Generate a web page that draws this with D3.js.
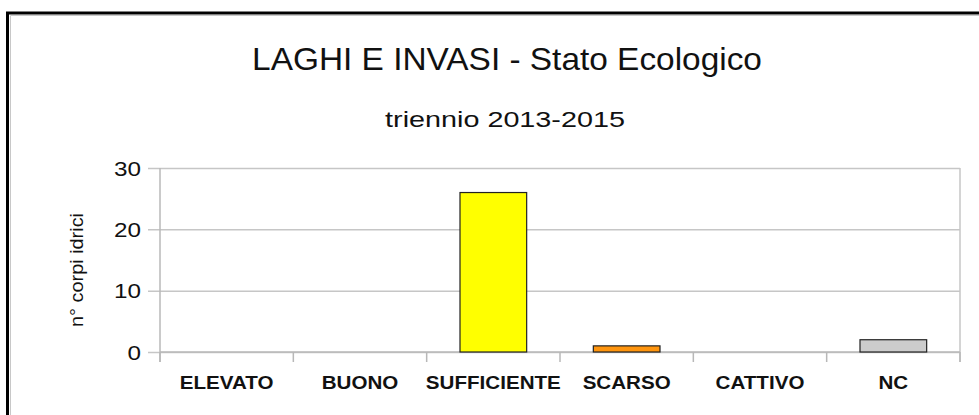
<!DOCTYPE html>
<html>
<head>
<meta charset="utf-8">
<script src="https://cdn.jsdelivr.net/npm/d3@7"></script>
<style>
  html, body { margin: 0; padding: 0; background: #fff; }
  svg { display: block; }
  text { font-family: "Liberation Sans", Arial, sans-serif; fill: #111; }
</style>
</head>
<body>
<svg id="chart" width="979" height="415"></svg>
<script>
// Chart data
const categories = ["ELEVATO", "BUONO", "SUFFICIENTE", "SCARSO", "CATTIVO", "NC"];
const counts = [0, 0, 26, 1, 0, 2];
const barColors = ["#3366cc", "#00b050", "#ffff00", "#ff950e", "#ff0000", "#cccccc"];
const yTicks = [0, 10, 20, 30];
const titleText = "LAGHI E INVASI - Stato Ecologico";
const subtitleText = "triennio 2013-2015";
const yAxisLabel = "n° corpi idrici";

const svg = d3.select("#chart");

// Outer frame (runs off the right and bottom edges)
svg.append("path")
  .attr("d", "M10.5,430 V15.5 H990")
  .attr("fill", "none").attr("stroke", "#c8c8c8").attr("stroke-width", 1);
svg.append("path")
  .attr("d", "M7.5,430 V13 H990")
  .attr("fill", "none").attr("stroke", "#000").attr("stroke-width", 3);

const plot = { left: 160, right: 960, top: 168, bottom: 352 };

const x = d3.scaleBand()
  .domain(categories)
  .range([plot.left, plot.right])
  .paddingInner(0.5)
  .paddingOuter(0.25);
const step = x.step();
const y = d3.scaleLinear().domain([0, 30]).range([plot.bottom, plot.top]);

// Stretch a text element horizontally (in its own frame) to a target width
function fit(sel, cx, cy, target, rotate) {
  const w = sel.node().getComputedTextLength();
  const sx = target / w;
  sel.attr("x", 0).attr("y", 0)
    .attr("transform", `translate(${cx},${cy})` + (rotate ? ` rotate(${rotate})` : "") + ` scale(${sx},1)`);
}

// Titles
fit(svg.append("text").attr("text-anchor", "middle").attr("font-size", 31).text(titleText), 507, 70, 510);
fit(svg.append("text").attr("text-anchor", "middle").attr("font-size", 22.5).text(subtitleText), 505, 127, 240);

// Gridlines and y tick labels
const g = svg.append("g");
const yAxis = d3.axisLeft(y).tickValues(yTicks).tickSize(0).tickPadding(0);
const yAxisG = g.append("g").attr("transform", `translate(${plot.left},0)`).call(yAxis);
yAxisG.select(".domain").remove();
yAxisG.selectAll(".tick line")
  .attr("x1", -12).attr("x2", plot.right - plot.left)
  .attr("stroke", "#c6c6c6").attr("stroke-width", 1.5);
const probe = svg.append("text").attr("font-size", 19.5).text("30");
const numScale = 27 / probe.node().getComputedTextLength();
probe.remove();
yAxisG.selectAll(".tick text")
  .attr("font-size", 19.5).attr("fill", "#111")
  .attr("font-family", "Liberation Sans, Arial, sans-serif")
  .attr("text-anchor", "end").attr("dy", "0.36em").attr("x", 0)
  .attr("transform", `translate(-19,0) scale(${numScale},1)`);

// Axis lines
g.append("line")
  .attr("x1", plot.left).attr("x2", plot.left)
  .attr("y1", plot.top).attr("y2", plot.bottom + 10)
  .attr("stroke", "#b8b8b8").attr("stroke-width", 1.5);
g.append("line")
  .attr("x1", plot.right).attr("x2", plot.right)
  .attr("y1", plot.top).attr("y2", plot.bottom + 10)
  .attr("stroke", "#c6c6c6").attr("stroke-width", 1.5);
const boundaries = categories.map(c => x(c) - (step - x.bandwidth()) / 2).concat([plot.right]);
g.selectAll("line.xtick").data(boundaries).join("line")
  .attr("class", "xtick")
  .attr("x1", d => d).attr("x2", d => d)
  .attr("y1", plot.bottom).attr("y2", plot.bottom + 10)
  .attr("stroke", "#b8b8b8").attr("stroke-width", 1.5);
g.append("line")
  .attr("x1", plot.left).attr("x2", plot.right)
  .attr("y1", plot.bottom).attr("y2", plot.bottom)
  .attr("stroke", "#b8b8b8").attr("stroke-width", 1.5);

// Bars
g.selectAll("rect.bar").data(categories.map((c, i) => ({ c, v: counts[i], col: barColors[i] })).filter(d => d.v > 0))
  .join("rect")
  .attr("class", "bar")
  .attr("x", d => x(d.c))
  .attr("width", x.bandwidth())
  .attr("y", d => y(d.v))
  .attr("height", d => y(0) - y(d.v))
  .attr("fill", d => d.col)
  .attr("stroke", "#222").attr("stroke-width", 1.2);

// Category labels
const catProbe = svg.append("text").attr("font-size", 18.5).attr("font-weight", "bold").text("SUFFICIENTE");
const catScale = 135 / catProbe.node().getComputedTextLength();
catProbe.remove();
categories.forEach(c => {
  svg.append("text")
    .attr("text-anchor", "middle").attr("font-size", 18.5).attr("font-weight", "bold")
    .attr("transform", `translate(${x(c) + x.bandwidth() / 2},388.5) scale(${catScale},1)`)
    .text(c);
});

// Y axis title
fit(svg.append("text").attr("text-anchor", "middle").attr("font-size", 18).text(yAxisLabel), 82.5, 270, 114, -90);
</script>
</body>
</html>
